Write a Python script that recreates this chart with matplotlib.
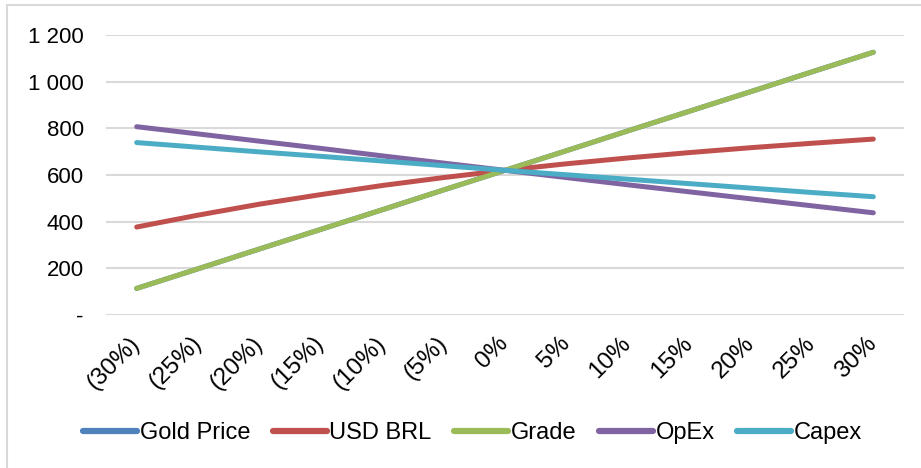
import matplotlib.pyplot as plt
from matplotlib.patches import Rectangle
from matplotlib.ticker import FuncFormatter

plt.rcParams['font.family'] = ['Liberation Sans', 'DejaVu Sans']

categories = ['(30%)', '(25%)', '(20%)', '(15%)', '(10%)', '(5%)', '0%',
              '5%', '10%', '15%', '20%', '25%', '30%']

gold_price = [114, 198, 283, 367, 451, 536, 620, 704, 789, 873, 957, 1042, 1126]
usd_brl = [377, 428, 475, 516, 555, 589, 620, 648, 673, 696, 717, 736, 754]
grade = [114, 198, 283, 367, 451, 536, 620, 704, 789, 873, 957, 1042, 1126]
opex = [807, 776, 745, 714, 682, 651, 620, 589, 558, 528, 498, 468, 438]
capex = [739, 719, 699, 680, 660, 640, 620, 601, 582, 563, 544, 525, 507]

series = [
    ('Gold Price', gold_price, '#4F81BD'),
    ('USD BRL', usd_brl, '#C0504D'),
    ('Grade', grade, '#9BBB59'),
    ('OpEx', opex, '#8064A2'),
    ('Capex', capex, '#4BACC6'),
]

fig = plt.figure(figsize=(9.21, 4.68), dpi=100)
ax = fig.add_axes([106 / 921, 1 - 315 / 468, (904 - 106) / 921, (315 - 35) / 468])

x = list(range(len(categories)))
for name, vals, color in series:
    ax.plot(x, vals, color=color, lw=3.6, solid_capstyle='round',
            solid_joinstyle='round', label=name)

ax.set_xlim(-0.5, len(categories) - 0.5)
ax.set_ylim(0, 1200)
ax.set_yticks(range(0, 1201, 200))


def fmt(v, pos):
    if v == 0:
        return '-'
    return f'{int(v):,}'.replace(',', ' ')


ax.yaxis.set_major_formatter(FuncFormatter(fmt))
ax.set_xticks(x)
ax.set_xticklabels(categories, rotation=45, ha='right', va='center',
                   rotation_mode='anchor', fontsize=17.5)
ax.tick_params(axis='both', length=0)
ax.tick_params(axis='y', pad=16, labelsize=16)
ax.tick_params(axis='x', pad=18)

ax.grid(axis='y', color='#D9D9D9', lw=1.5)
ax.set_axisbelow(True)
for s in ax.spines.values():
    s.set_visible(False)

leg = fig.legend(loc='center', bbox_to_anchor=(0.513, 1 - 433 / 468), ncol=5,
                 frameon=False, fontsize=17, handlelength=2.3,
                 handletextpad=0.1, columnspacing=0.95)
for h in leg.get_lines():
    h.set_linewidth(4.5)
    h.set_solid_capstyle('round')

fig.patches.append(Rectangle((7 / 921, -0.1), 1.2, 1 - 5 / 468 + 0.1,
                             transform=fig.transFigure, fill=False,
                             edgecolor='#D9D9D9', lw=1.5))

fig.savefig('out.png', dpi=100)
